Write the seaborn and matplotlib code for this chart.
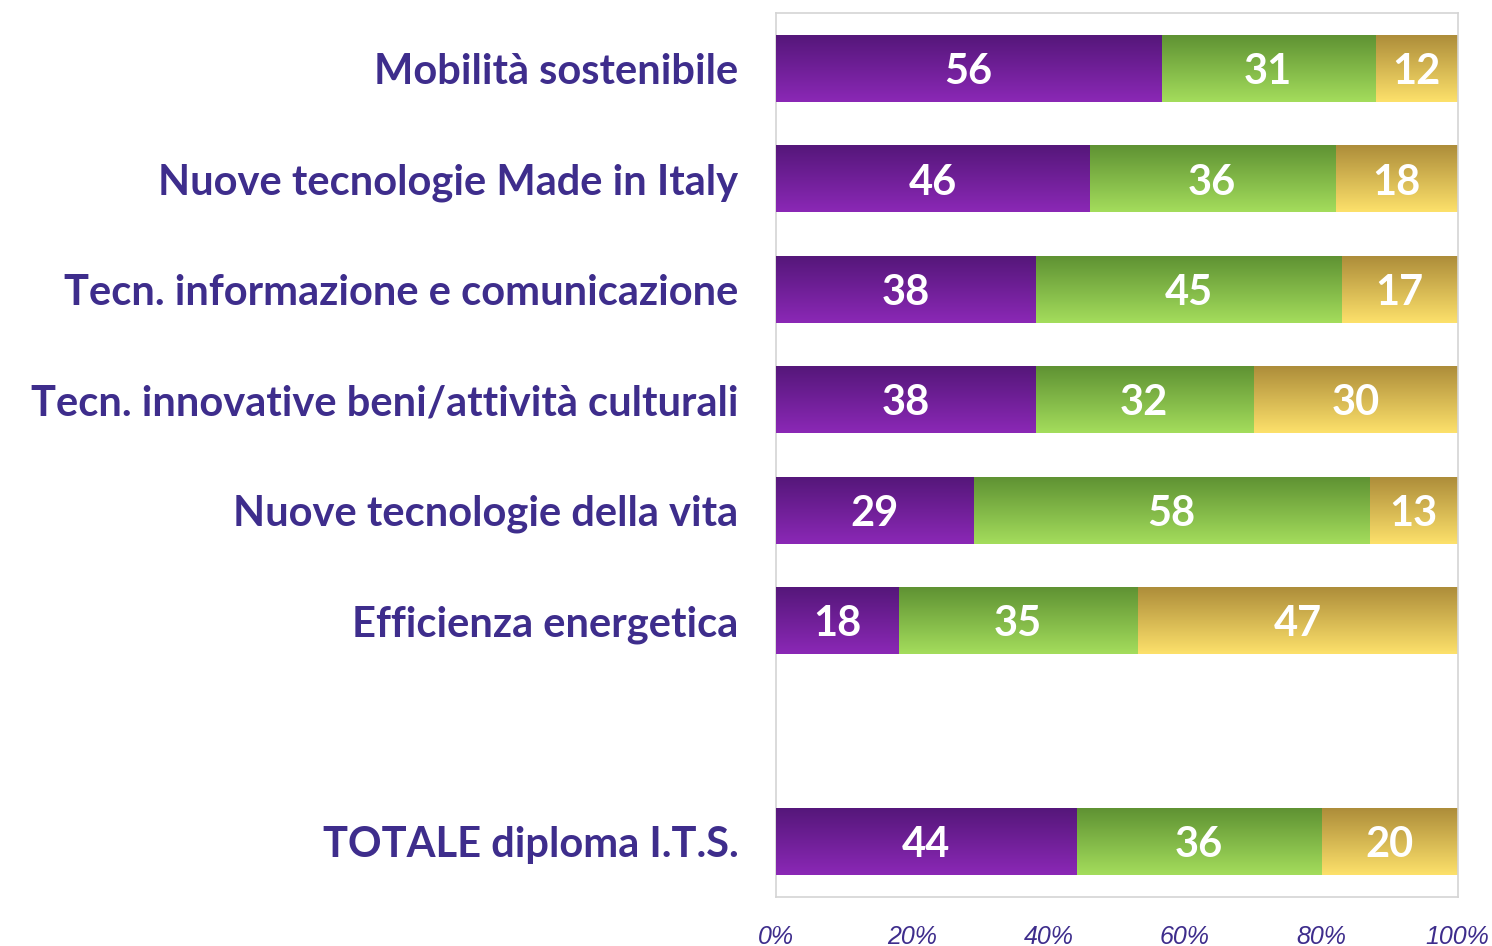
"""
Diplomati I.T.S. per area tecnologica - barre orizzontali in pila al 100%.
"""
import numpy as np
import pandas as pd
import matplotlib
matplotlib.use("Agg")
import matplotlib.pyplot as plt
from matplotlib.colors import LinearSegmentedColormap
import seaborn as sns

CATEGORIES = [
    "Mobilità sostenibile",
    "Nuove tecnologie Made in Italy",
    "Tecn. informazione e comunicazione",
    "Tecn. innovative beni/attività culturali",
    "Nuove tecnologie della vita",
    "Efficienza energetica",
    " ",
    "TOTALE diploma I.T.S.",
]
PURPLE = [56, 46, 38, 38, 29, 18, None, 44]
GREEN = [31, 36, 45, 32, 58, 35, None, 36]
GOLD = [12, 18, 17, 30, 13, 47, None, 20]
TICKS = [0, 20, 40, 60, 80, 100]

# (top colour, bottom colour) of each gradient
GRADIENTS = [
    ("#55177a", "#8b28b6"),
    ("#5f9233", "#a4dd5c"),
    ("#ad8d3a", "#fde16b"),
]
LABEL_COLOR = "#3e2d8c"
FONT = ["Lato", "DejaVu Sans"]


def build_frame() -> pd.DataFrame:
    df = pd.DataFrame({"cat": CATEGORIES, "a": PURPLE, "b": GREEN, "c": GOLD})
    tot = df[["a", "b", "c"]].sum(axis=1, min_count=1)
    for col in ["a", "b", "c"]:
        df[col] = df[col] / tot * 100
    df["ab"] = df["a"] + df["b"]
    df["abc"] = df["ab"] + df["c"]
    return df


def gradient_fill(ax, patches, colors, zorder):
    cmap = LinearSegmentedColormap.from_list("g", colors)
    grad = np.linspace(0, 1, 256).reshape(-1, 1)
    for p in patches:
        x0, y0 = p.get_x(), p.get_y()
        w, h = p.get_width(), p.get_height()
        if not np.isfinite(w) or w <= 0:
            continue
        ax.imshow(grad, cmap=cmap, aspect="auto", origin="upper",
                  extent=(x0, x0 + w, y0 + h, y0), zorder=zorder,
                  interpolation="bicubic")
        p.set_visible(False)


def main() -> None:
    df = build_frame()
    sns.set_theme(style="white")
    plt.rcParams["font.family"] = FONT

    fig = plt.figure(figsize=(14.92, 9.46), dpi=100)
    ax = fig.add_axes([0.520, 0.0518, 0.457, 0.934])

    layers = [("abc", 2), ("ab", 1), ("a", 0)]
    n_before = 0
    for col, gi in layers:
        sns.barplot(data=df, x=col, y="cat", order=CATEGORIES, orient="h",
                    width=0.6, color=GRADIENTS[gi][1], ax=ax, errorbar=None,
                    linewidth=0, saturation=1)
        new = ax.patches[n_before:]
        n_before = len(ax.patches)
        gradient_fill(ax, list(new), GRADIENTS[gi], zorder=2 + (2 - gi))

    # value labels centred in each segment
    for i, row in df.iterrows():
        if pd.isna(row["a"]):
            continue
        starts = [0, row["a"], row["ab"]]
        widths = [row["a"], row["b"], row["c"]]
        raw = [PURPLE[i], GREEN[i], GOLD[i]]
        for s, w, v in zip(starts, widths, raw):
            ax.text(s + w / 2, i, f"{v}", ha="center", va="center_baseline",
                    color="white", fontsize=30, fontweight="bold",
                    family=FONT, zorder=10)

    ax.set_xlim(0, 100)
    ax.set_ylim(len(CATEGORIES) - 0.5, -0.5)
    ax.set_xticks(TICKS)
    ax.set_xticklabels([f"{t}%" for t in TICKS], fontsize=18, style="italic",
                       color=LABEL_COLOR,
                       family=["Liberation Sans Narrow", "Liberation Sans"])
    ax.set_yticks(range(len(CATEGORIES)))
    ax.set_yticklabels(CATEGORIES, fontsize=30, fontweight="bold",
                       color=LABEL_COLOR)
    ax.tick_params(axis="y", length=0, pad=27)
    ax.tick_params(axis="x", length=0, pad=20)
    ax.set_xlabel("")
    ax.set_ylabel("")
    for sp in ax.spines.values():
        sp.set_color("#d4d4d4")
        sp.set_linewidth(1.2)

    fig.savefig("out.png", dpi=100)
    plt.close(fig)


if __name__ == "__main__":
    main()
